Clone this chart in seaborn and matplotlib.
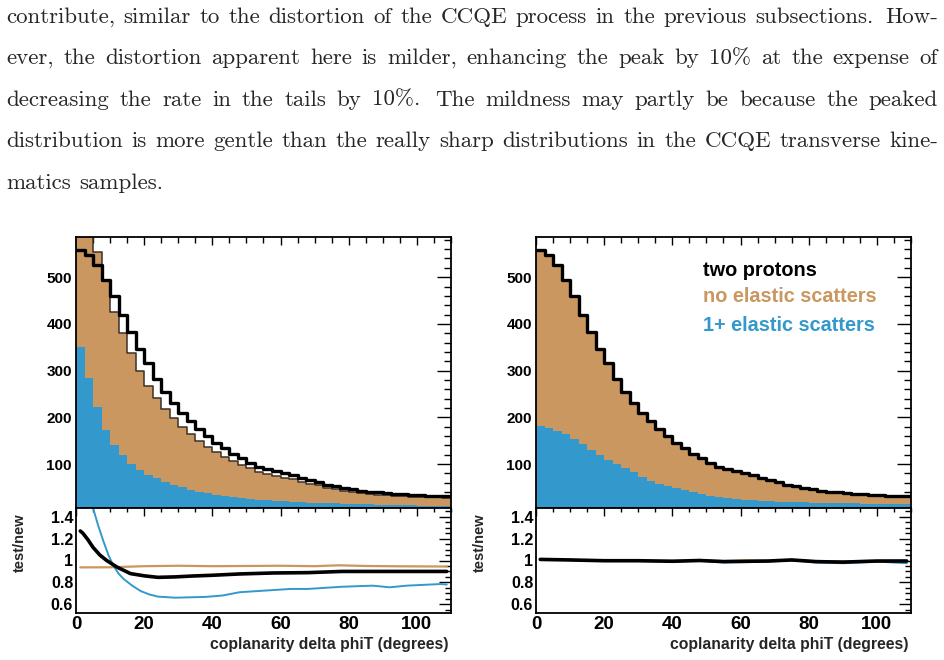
import matplotlib
matplotlib.use("Agg")
import matplotlib.pyplot as plt
from matplotlib.ticker import MultipleLocator, FormatStrFormatter
import numpy as np
import pandas as pd
import seaborn as sns

# ---- data ----
bin_edges = list(np.arange(0, 112.5, 2.5))  # 44 bins of 2.5 degrees
bin_centers = [(a + b) / 2 for a, b in zip(bin_edges[:-1], bin_edges[1:])]

# nominal "two protons" prediction (black step, both panels)
two_protons = [558, 548, 527, 494, 459, 419, 382, 346, 316, 282, 255, 231, 210, 191,
               174, 159, 146, 134, 122, 112, 103, 94, 89, 85, 81, 76, 71, 66, 61, 56,
               52, 48.5, 45.5, 43, 41, 39, 37.5, 36, 35, 34, 33, 32.5, 32, 31.5]

# left panel (test): stacked components
left_no_elastic = [354, 375, 332, 319, 285, 261, 237, 213, 191, 172, 156, 143, 130, 119,
                   108, 99.5, 92, 84.5, 77.5, 71, 66, 59.5, 56.5, 53.5, 51, 48, 44.5, 41,
                   37.5, 33.5, 30, 27.5, 25.5, 24, 22.5, 21.5, 20.5, 20, 19, 18.5, 18.5,
                   18, 18, 17.5]
left_elastic = [351, 285, 221, 173, 141, 119, 100, 87, 76, 69, 61, 55, 50, 45, 41, 37.5,
                34, 31.5, 29, 27, 25, 23.5, 22, 21, 20, 19, 18, 17, 16.5, 16, 15.5, 15,
                14.5, 14, 13.5, 13, 12.5, 12, 12, 11.5, 11, 11, 10.5, 10.5]

# right panel (new): stacked components
right_no_elastic = [377, 370, 356, 330, 306, 277, 252, 227, 208, 182, 164, 149, 137, 127,
                    116, 106, 98, 90, 82, 76, 70.5, 64.5, 62, 60, 57.5, 53.5, 49.5, 45.5,
                    41.5, 37, 33.5, 30.5, 28, 26, 24.5, 23, 22, 20.5, 20, 19, 18.5, 18,
                    18, 17.5]
right_elastic = [181, 178, 171, 164, 153, 142, 130, 119, 108, 100, 91, 82, 73, 64, 58, 53,
                 48, 44, 40, 36, 32.5, 29.5, 27, 25, 23.5, 22.5, 21.5, 20.5, 19.5, 19,
                 18.5, 18, 17.5, 17, 16.5, 16, 15.5, 15.5, 15, 15, 14.5, 14.5, 14, 14]

# ratio panels (test/new), smooth curves
l_ratio_total_x = [1.25, 2, 3.5, 5, 7, 9, 12, 16, 20, 24, 29, 34, 40, 48, 58, 68, 78, 88, 98, 108.75]
l_ratio_total_y = [1.27, 1.25, 1.19, 1.12, 1.05, 1.0, 0.94, 0.88, 0.86, 0.846, 0.85, 0.858,
                   0.865, 0.877, 0.886, 0.889, 0.90, 0.90, 0.90, 0.90]
l_ratio_el_x = [1.25, 3, 5, 6.5, 8, 9.5, 11, 12.5, 14, 16.5, 19, 21.5, 24, 29, 38, 43, 48,
                58, 63, 68, 73, 78, 87, 92, 97, 107, 108.75]
l_ratio_el_y = [1.95, 1.7, 1.48, 1.32, 1.18, 1.05, 0.95, 0.88, 0.83, 0.77, 0.72, 0.69, 0.67,
                0.66, 0.667, 0.68, 0.71, 0.73, 0.74, 0.74, 0.75, 0.76, 0.77, 0.755, 0.77,
                0.785, 0.78]
l_ratio_noel_x = [1.25, 10, 20, 30, 40, 50, 60, 70, 77, 85, 95, 108.75]
l_ratio_noel_y = [0.937, 0.938, 0.948, 0.952, 0.948, 0.95, 0.952, 0.948, 0.956, 0.95, 0.947, 0.945]

r_ratio_x = [1.25, 10, 20, 30, 40, 48, 55, 62, 68, 75, 82, 90, 100, 108.75]
r_ratio_total_y = [1.01, 1.005, 0.998, 0.998, 0.993, 1.0, 0.99, 0.993, 0.995, 1.005, 0.99, 0.985, 0.995, 0.995]
r_ratio_el_y = [1.012, 1.005, 0.997, 0.995, 0.99, 0.998, 0.982, 0.985, 0.99, 1.002, 0.982, 0.975, 0.99, 0.975]
r_ratio_noel_y = [1.005, 1.005, 1.0, 1.0, 0.997, 1.003, 0.995, 1.0, 0.998, 1.005, 0.995, 0.993, 0.998, 1.0]

legend_labels = ["two protons", "no elastic scatters", "1+ elastic scatters"]

paragraph = [
    "contribute, similar to the distortion of the CCQE process in the previous subsections. How-",
    "ever, the distortion apparent here is milder, enhancing the peak by 10% at the expense of",
    "decreasing the rate in the tails by 10%. The mildness may partly be because the peaked",
    "distribution is more gentle than the really sharp distributions in the CCQE transverse kine-",
    "matics samples.",
]

TAN = "#c9975f"
BLUE = "#3399cc"

sns.set_style("white")
plt.rcParams["font.family"] = ["Liberation Sans", "DejaVu Sans"]
plt.rcParams["font.weight"] = "bold"

W, H = 945, 660
fig = plt.figure(figsize=(W / 100, H / 100), dpi=100)


def px_axes(x0, y0, x1, y1):
    # pixel box (top-left origin) -> figure axes
    return fig.add_axes([x0 / W, 1 - y1 / H, (x1 - x0) / W, (y1 - y0) / H])


def style_axes(ax):
    for s in ax.spines.values():
        s.set_linewidth(1.3)
        s.set_color("black")
    ax.tick_params(which="both", direction="in", top=True, right=True, width=1, colors="black")


def step_hist(ax, values, **kw):
    df = pd.DataFrame({"center": bin_centers, "count": values})
    sns.histplot(data=df, x="center", weights="count", bins=bin_edges, element="step",
                 ax=ax, **kw)


def draw_top(ax, no_el, el, outline):
    total = [a + b for a, b in zip(no_el, el)]
    step_hist(ax, total, fill=True, color=TAN, alpha=1, linewidth=0)
    step_hist(ax, el, fill=True, color=BLUE, alpha=1, linewidth=0)
    if outline:
        step_hist(ax, total, fill=False, color="#3b3027", linewidth=1.1)
    step_hist(ax, two_protons, fill=False, color="black", linewidth=2.4)
    ax.set_xlim(0, 110)
    ax.set_ylim(5.8, 586)
    ax.set_xlabel("")
    ax.set_ylabel("")
    ax.set_yticks([100, 200, 300, 400, 500])
    ax.yaxis.set_minor_locator(MultipleLocator(20))
    ax.xaxis.set_major_locator(MultipleLocator(20))
    ax.xaxis.set_minor_locator(MultipleLocator(5))
    style_axes(ax)
    ax.tick_params(axis="x", which="major", length=6, labelbottom=False)
    ax.tick_params(axis="x", which="minor", length=4)
    ax.tick_params(axis="y", which="major", length=10, labelsize=11, pad=3)
    ax.tick_params(axis="y", which="minor", length=5)


def draw_ratio(ax, xs_tot, y_tot, xs_el, y_el, xs_no, y_no):
    sns.lineplot(x=xs_no, y=y_no, color=TAN, linewidth=1.6, ax=ax)
    sns.lineplot(x=xs_el, y=y_el, color=BLUE, linewidth=1.4, ax=ax)
    sns.lineplot(x=xs_tot, y=y_tot, color="black", linewidth=2.6, ax=ax)
    ax.set_xlim(0, 110)
    ax.set_ylim(0.52, 1.48)
    ax.set_xlabel("")
    ax.set_ylabel("")
    ax.xaxis.set_major_locator(MultipleLocator(20))
    ax.xaxis.set_minor_locator(MultipleLocator(5))
    ax.yaxis.set_major_locator(MultipleLocator(0.2))
    ax.yaxis.set_minor_locator(MultipleLocator(0.05))
    ax.yaxis.set_major_formatter(FormatStrFormatter("%g"))
    style_axes(ax)
    ax.tick_params(axis="x", which="major", length=6, labelsize=13.5, pad=2)
    ax.tick_params(axis="x", which="minor", length=3)
    ax.tick_params(axis="y", which="major", length=9, labelsize=11.5, pad=2)
    ax.tick_params(axis="y", which="minor", length=4.5)


panels = [
    (76, left_no_elastic, left_elastic, True,
     (l_ratio_total_x, l_ratio_total_y, l_ratio_el_x, l_ratio_el_y, l_ratio_noel_x, l_ratio_noel_y)),
    (536, right_no_elastic, right_elastic, False,
     (r_ratio_x, r_ratio_total_y, r_ratio_x, r_ratio_el_y, r_ratio_x, r_ratio_noel_y)),
]
for x0, no_el, el, outline, ratio_sets in panels:
    ax_top = px_axes(x0, 237, x0 + 375, 508)
    draw_top(ax_top, no_el, el, outline)
    ax_rat = px_axes(x0, 508, x0 + 375, 613)
    draw_ratio(ax_rat, *ratio_sets)
    fig.text((x0 - 56) / W, 1 - 543 / H, "test/new", rotation=90, fontsize=10.5,
             fontweight="bold", ha="center", va="center")
    fig.text((x0 + 373) / W, 1 - 645 / H, "coplanarity delta phiT (degrees)", fontsize=11.3,
             fontweight="bold", ha="right", va="center")
    if x0 > 100:
        for label, col, yy in zip(legend_labels, ["black", TAN, BLUE], [0.878, 0.779, 0.675]):
            ax_top.text(0.445, yy, label, color=col, fontsize=14.3, fontweight="bold",
                        transform=ax_top.transAxes, ha="left", va="center")

# ---- justified paragraph in a Computer Modern face ----
renderer = fig.canvas.get_renderer()
left_px, right_px = 6, 938
space_em = 0.36


def word_widths(words, size):
    out = []
    for w in words:
        t = fig.text(0, 0, w, fontfamily="cmr10", fontsize=size, fontweight="normal")
        out.append(t.get_window_extent(renderer).width)
        t.remove()
    return out


# pick the size at which the first line fills the measure with ordinary spacing
first = paragraph[0].split(" ")
ref_size = 15.0
ww = word_widths(first, ref_size)
natural = sum(ww) + (len(first) - 1) * space_em * ref_size * 100 / 72
size = ref_size * (right_px - left_px) / natural

baselines = [22.7, 64.0, 105.5, 147.3, 189.3]
for n, (line, base) in enumerate(zip(paragraph, baselines)):
    words = line.split(" ")
    texts = [fig.text(0, 1 - base / H, w, fontfamily="cmr10", fontsize=size,
                      fontweight="normal", ha="left", va="baseline") for w in words]
    widths = [t.get_window_extent(renderer).width for t in texts]
    weights = [1.35 if w.endswith(".") else 1.0 for w in words[:-1]]
    if n == len(paragraph) - 1:
        gaps = [size * 100 / 72 * space_em * k for k in weights]
    else:
        unit = (right_px - left_px - sum(widths)) / sum(weights)
        gaps = [unit * k for k in weights]
    x = left_px
    for i, t in enumerate(texts):
        t.set_x(x / W)
        x += widths[i] + (gaps[i] if i < len(gaps) else 0)

fig.savefig("out.png", dpi=100)
